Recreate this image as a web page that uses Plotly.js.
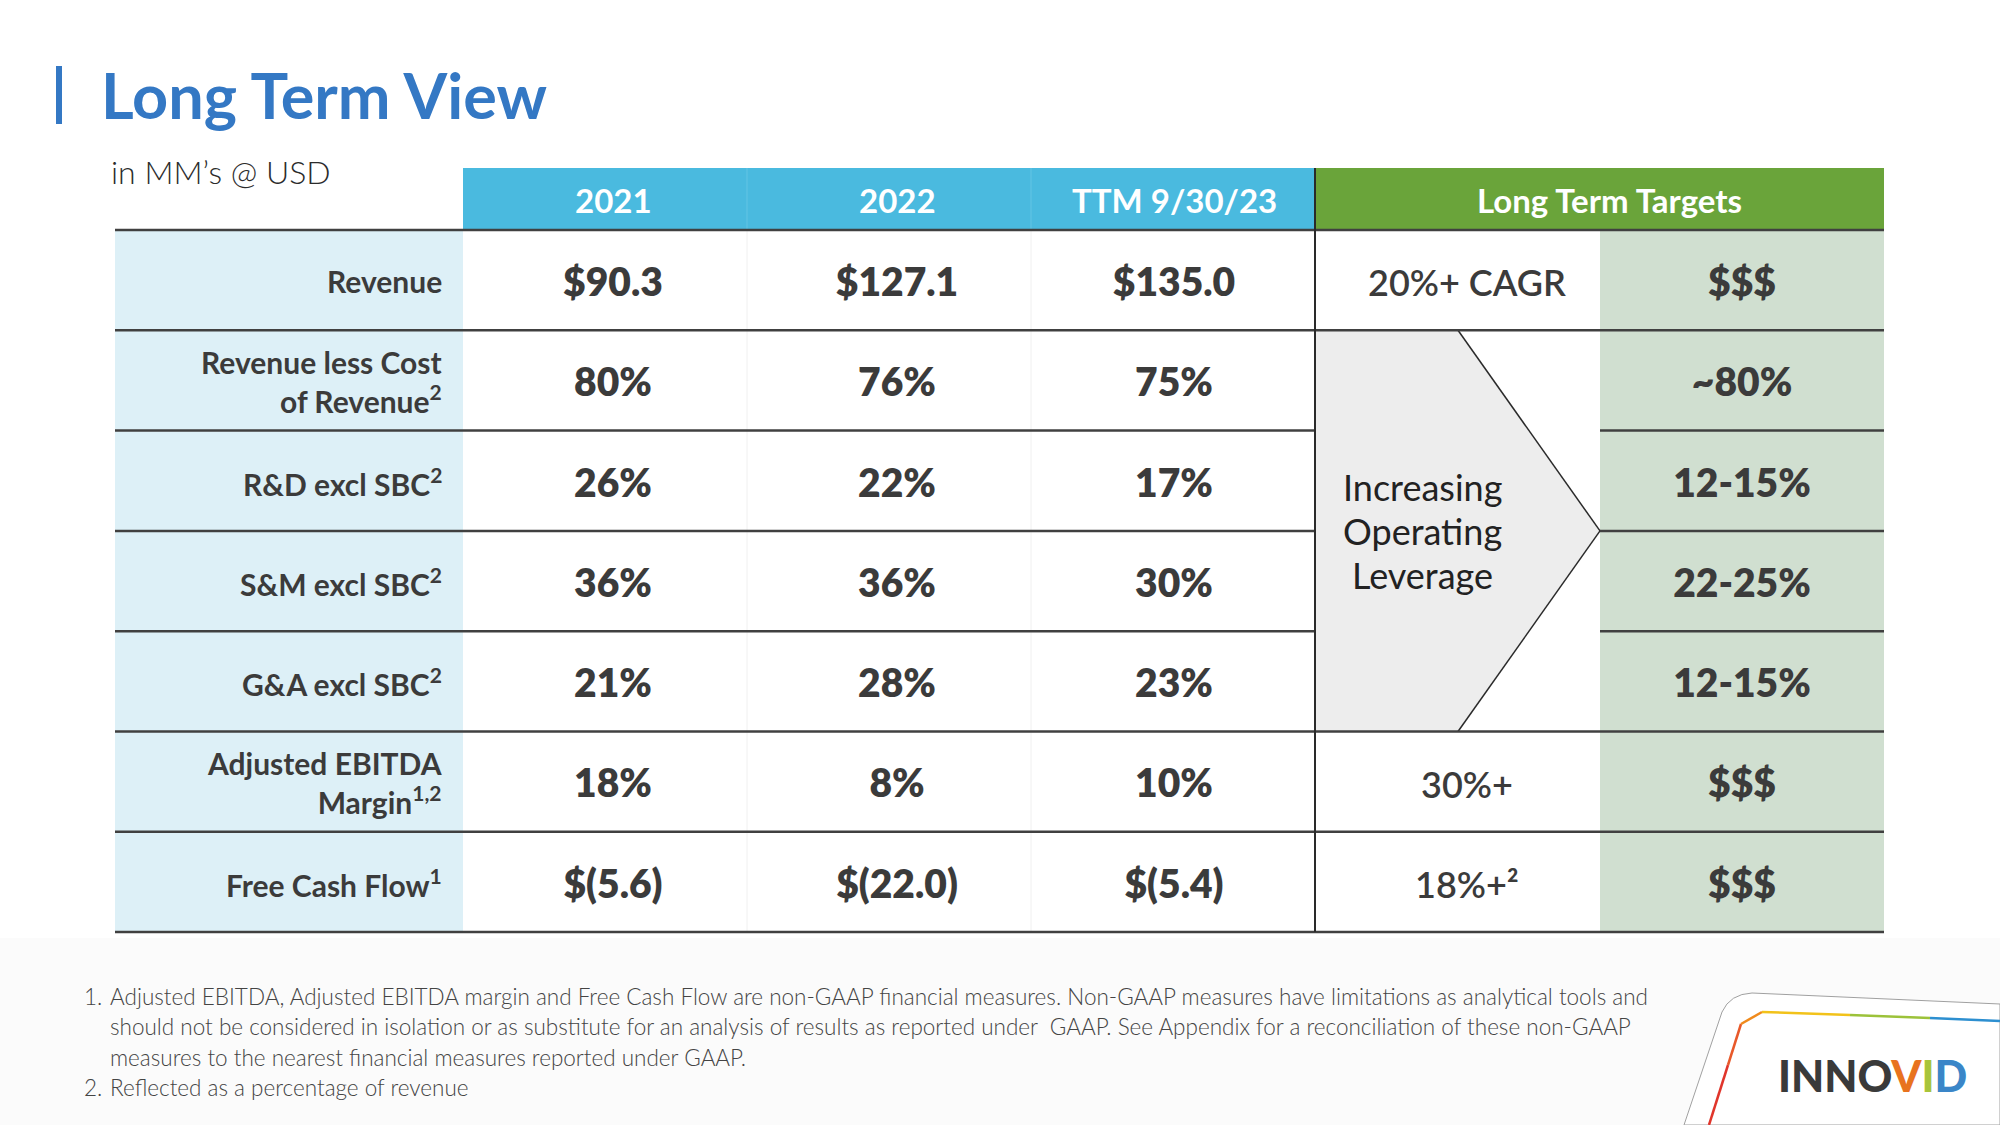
<!DOCTYPE html>
<html>
<head>
<meta charset="utf-8">
<script src="https://cdn.plot.ly/plotly-3.0.1.min.js"></script>
<style>
  html, body { margin: 0; padding: 0; background: #ffffff; }
  #chart { width: 2000px; height: 1125px; }
</style>
</head>
<body>
<div id="chart"></div>
<script>
// ---------------- DATA ----------------
const titleText = 'Long Term View';
const unitsText = 'in MM\u2019s @ USD';
const periodHeaders = ['2021', '2022', 'TTM 9/30/23'];
const targetHeader = 'Long Term Targets';
const rowLabels = [
  'Revenue',
  'Revenue less Cost<br>of Revenue<sup>2</sup>',
  'R&amp;D excl SBC<sup>2</sup>',
  'S&amp;M excl SBC<sup>2</sup>',
  'G&amp;A excl SBC<sup>2</sup>',
  'Adjusted EBITDA<br>Margin<sup>1,2</sup>',
  'Free Cash Flow<sup>1</sup>'
];
const values2021 = ['$90.3', '80%', '26%', '36%', '21%', '18%', '$(5.6)'];
const values2022 = ['$127.1', '76%', '22%', '36%', '28%', '8%', '$(22.0)'];
const valuesTTM = ['$135.0', '75%', '17%', '30%', '23%', '10%', '$(5.4)'];
const targetNotes = ['20%+ CAGR', '', '', '', '', '30%+', '18%+\u00B2'];
const targetValues = ['$$$', '~80%', '12-15%', '22-25%', '12-15%', '$$$', '$$$'];
const arrowLines = ['Increasing', 'Operating', 'Leverage'];
const footnoteNumbers = ['1.', '', '', '2.'];
const footnoteLines = [
  'Adjusted EBITDA, Adjusted EBITDA margin and Free Cash Flow are non-GAAP financial measures. Non-GAAP measures have limitations as analytical tools and',
  'should not be considered in isolation or as substitute for an analysis of results as reported under  GAAP. See Appendix for a reconciliation of these non-GAAP',
  'measures to the nearest financial measures reported under GAAP.',
  'Reflected as a percentage of revenue'
];
const logoParts = ['INNO', 'V', 'I', 'D'];

// ---------------- LAYOUT GEOMETRY ----------------
const W = 2000, H = 1125;
const tblLeft = 115, labelRight = 463;
const colEdges = [463, 747, 1031, 1315];          // period columns
const colText = [613, 897, 1174];                 // text centres of period columns
const ltLeft = 1315, ltMid = 1600, ltRight = 1884;
const headTop = 168, headBot = 230;
const rowH = 100.3;
const nRows = rowLabels.length;
const rowTop = i => headBot + i * rowH;
const rowMid = i => headBot + (i + 0.5) * rowH;
const tblBot = rowTop(nRows);

const DARK = '#3b3b3b';
const LINE = '#404040';
const FONT = 'Lato, "Open Sans", sans-serif';

const shapes = [];
const annotations = [];
function rect(x0, y0, x1, y1, fill, layer) {
  shapes.push({type: 'rect', xref: 'x', yref: 'y', x0, y0, x1, y1,
    fillcolor: fill, line: {width: 0}, layer: layer || 'below'});
}
function line(x0, y0, x1, y1, color, width) {
  shapes.push({type: 'line', xref: 'x', yref: 'y', x0, y0, x1, y1,
    line: {color: color, width: width}, layer: 'above'});
}

// footer background
rect(0, tblBot + 6, W, H, '#fbfbfb');
// logo card
shapes.push({type: 'path', xref: 'x', yref: 'y',
  path: 'M 1684 1125 L 1722 1012 Q 1730 994 1752 993 L 2000 1004 L 2000 1125 Z',
  fillcolor: '#ffffff', line: {color: '#a0a0a0', width: 1}, layer: 'below'});

// title bar
rect(56, 66, 62, 124, '#3478c4');

// header cells
rect(colEdges[0], headTop, colEdges[3], headBot, '#4abadf');
rect(ltLeft, headTop, ltRight, headBot, '#6aa43a');
// label column + sage target column
rect(tblLeft, headBot, labelRight, tblBot, '#ddf0f7');
rect(ltMid, headBot, ltRight, tblBot, '#d0dfd0');

// faint separators between period columns
[colEdges[1], colEdges[2]].forEach(x => {
  line(x, headTop, x, headBot, '#63c4e4', 1);
  line(x, headBot, x, tblBot, '#f0f0f0', 1);
});

// arrow
const aTop = rowTop(1), aBot = rowTop(5), aTip = (aTop + aBot) / 2, aNeck = 1458;
shapes.push({type: 'path', xref: 'x', yref: 'y',
  path: `M ${ltLeft} ${aTop} L ${aNeck} ${aTop} L ${ltMid} ${aTip} L ${aNeck} ${aBot} L ${ltLeft} ${aBot} Z`,
  fillcolor: '#ededed', line: {width: 0}, layer: 'below'});
line(aNeck, aTop, ltMid, aTip, '#2a2a2a', 1.5);
line(ltMid, aTip, aNeck, aBot, '#2a2a2a', 1.5);

// horizontal rules
line(tblLeft, headBot, ltRight, headBot, LINE, 2.5);
for (let i = 1; i <= nRows; i++) {
  const y = rowTop(i);
  if (i >= 2 && i <= 4) {
    line(tblLeft, y, ltLeft, y, LINE, 2.5);
    line(ltMid, y, ltRight, y, LINE, 2.5);
  } else {
    line(tblLeft, y, ltRight, y, LINE, 2.5);
  }
}
// vertical rule before targets
line(ltLeft, headTop, ltLeft, tblBot, '#2a2a2a', 2);

// -------- text --------
function ann(text, x, y, size, color, xanchor, weight, extra) {
  annotations.push(Object.assign({text, x, y, xref: 'x', yref: 'y', showarrow: false,
    xanchor: xanchor || 'center', yanchor: 'middle',
    font: {family: FONT, size, color, weight: weight || 400}}, extra || {}));
}
ann(titleText, 99, 94, 63, '#3478c4', 'left', 700);
ann(unitsText, 109, 171, 32, '#2b2b2b', 'left', 300);
periodHeaders.forEach((t, i) => ann(t, colText[i], (headTop + headBot) / 2 + 1, 33, '#ffffff', 'center', 700));
ann(targetHeader, 1609, (headTop + headBot) / 2 + 1, 33, '#ffffff', 'center', 700);
rowLabels.forEach((t, i) => ann(t, 444, rowMid(i) + 1, 30, DARK, 'right', 700, {align: 'right'}));
targetNotes.forEach((t, i) => { if (t) ann(t, 1467, rowMid(i) + 2, 36, DARK, 'center', 600); });
arrowLines.forEach((t, i) => ann(t, 1422, 487 + i * 44, 36, '#222222', 'center', 400));

footnoteLines.forEach((t, i) => {
  const y = 996 + i * 30.6;
  if (footnoteNumbers[i]) ann(footnoteNumbers[i], 82, y, 22.5, '#444444', 'left', 300);
  ann(t, 108, y, 22.5, '#444444', 'left', 300);
});

// logo text
const logoColors = ['#3a3a3a', '#e8731e', '#a8c43a', '#3a86c8'];
annotations.push({xref: 'x', yref: 'y', x: 1776, y: 1075, xanchor: 'left', yanchor: 'middle', showarrow: false,
  text: logoParts.map((p, i) => `<span style="color:${logoColors[i]}">${p}</span>`).join(''),
  font: {family: FONT, size: 43, color: '#3a3a3a', weight: 900}});

// rainbow line of logo card
const rainbow = [
  ['#e0352b', 1709, 1125, 1728, 1065],
  ['#e8592a', 1728, 1065, 1741, 1024],
  ['#f08a1c', 1741, 1024, 1762, 1012],
  ['#f2c21a', 1762, 1012, 1850, 1015],
  ['#9cc23a', 1850, 1015, 1930, 1018],
  ['#2d8fd0', 1930, 1018, 2000, 1021]
];
rainbow.forEach(s => line(s[1], s[2], s[3], s[4], s[0], 2.5));

// ---------------- TRACES (values) ----------------
function textTrace(xs, ys, texts, size, color) {
  return {type: 'scatter', mode: 'text', x: xs, y: ys, text: texts,
    textposition: 'middle center', hoverinfo: 'skip', showlegend: false,
    textfont: {family: FONT, size, color, weight: 800}};
}
const rowsY = rowLabels.map((_, i) => rowMid(i) + 6);
const periodSeries = [values2021, values2022, valuesTTM];
const traces = periodSeries.map((vals, c) =>
  textTrace(vals.map(() => colText[c]), rowsY, vals, 39, DARK));
traces.push(textTrace(targetValues.map(() => 1742), rowsY, targetValues, 39, DARK));

const layout = {
  width: W, height: H,
  margin: {l: 0, r: 0, t: 0, b: 0, pad: 0},
  paper_bgcolor: '#ffffff', plot_bgcolor: 'rgba(0,0,0,0)',
  xaxis: {range: [0, W], visible: false, fixedrange: true},
  yaxis: {range: [H, 0], visible: false, fixedrange: true},
  shapes, annotations, showlegend: false
};
Plotly.newPlot('chart', traces, layout, {staticPlot: true, displayModeBar: false});
</script>
</body>
</html>
